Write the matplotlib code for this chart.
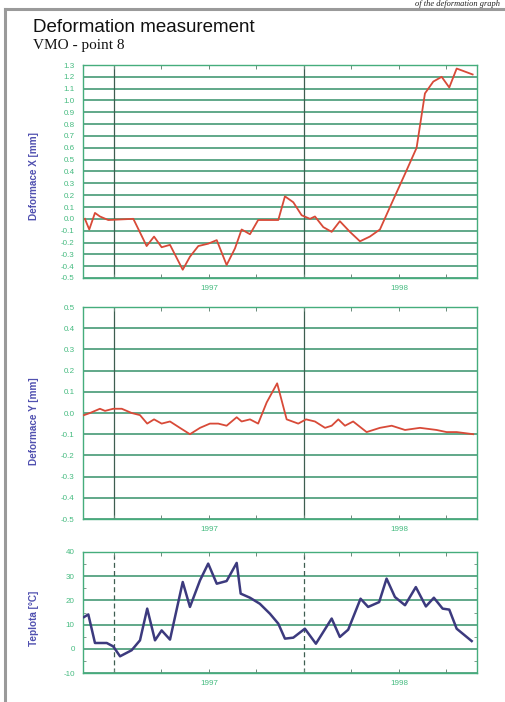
import matplotlib
matplotlib.use("Agg")
import matplotlib.pyplot as plt
from matplotlib.lines import Line2D
import numpy as np

# ---------------- data ----------------
x_dates = [1996.847, 1996.870, 1996.900, 1996.926, 1996.970, 1997.102, 1997.172, 1997.211,
           1997.251, 1997.295, 1997.362, 1997.400, 1997.444, 1997.496, 1997.541, 1997.593,
           1997.637, 1997.672, 1997.716, 1997.759, 1997.865, 1997.900, 1997.944, 1997.988,
           1998.032, 1998.058, 1998.102, 1998.146, 1998.189, 1998.242, 1998.295, 1998.347,
           1998.400, 1998.453, 1998.532, 1998.593, 1998.637, 1998.681, 1998.725, 1998.765,
           1998.804, 1998.838, 1998.888]
x_values = [0.0, -0.09, 0.05, 0.02, -0.01, 0.0, -0.23, -0.15, -0.24, -0.22, -0.43, -0.32,
            -0.23, -0.21, -0.18, -0.39, -0.25, -0.09, -0.13, -0.01, -0.01, 0.19, 0.14, 0.03,
            0.0, 0.02, -0.07, -0.11, -0.02, -0.11, -0.19, -0.15, -0.09, 0.10, 0.38, 0.60,
            1.06, 1.16, 1.20, 1.11, 1.27, 1.25, 1.22]

y_dates = [1996.842, 1996.874, 1996.926, 1996.953, 1996.996, 1997.041, 1997.093, 1997.137,
           1997.175, 1997.211, 1997.251, 1997.295, 1997.347, 1997.400, 1997.453, 1997.505,
           1997.549, 1997.593, 1997.646, 1997.672, 1997.716, 1997.759, 1997.804, 1997.859,
           1997.909, 1997.970, 1998.011, 1998.058, 1998.111, 1998.146, 1998.181, 1998.216,
           1998.259, 1998.330, 1998.400, 1998.462, 1998.532, 1998.611, 1998.698, 1998.751,
           1998.804, 1998.891]
y_values = [-0.01, 0.00, 0.02, 0.01, 0.02, 0.02, 0.00, -0.01, -0.05, -0.03, -0.05, -0.04,
            -0.07, -0.10, -0.07, -0.05, -0.05, -0.06, -0.02, -0.04, -0.03, -0.05, 0.05, 0.14,
            -0.03, -0.05, -0.03, -0.04, -0.07, -0.06, -0.03, -0.06, -0.04, -0.09, -0.07, -0.06,
            -0.08, -0.07, -0.08, -0.09, -0.09, -0.10]

t_dates = [1996.842, 1996.865, 1996.900, 1996.962, 1996.996, 1997.032, 1997.093, 1997.137,
           1997.175, 1997.216, 1997.251, 1997.295, 1997.362, 1997.400, 1997.453, 1997.496,
           1997.541, 1997.593, 1997.646, 1997.667, 1997.716, 1997.768, 1997.821, 1997.865,
           1997.900, 1997.944, 1998.005, 1998.063, 1998.146, 1998.189, 1998.233, 1998.298,
           1998.338, 1998.396, 1998.435, 1998.479, 1998.532, 1998.589, 1998.642, 1998.684,
           1998.730, 1998.765, 1998.804, 1998.883]
t_values = [13.1, 14.2, 2.4, 2.4, 1.0, -3.1, -0.6, 3.5, 16.6, 3.5, 7.6, 3.8, 27.6, 17.3,
            28.3, 35.2, 26.9, 28.0, 35.5, 22.8, 21.1, 18.6, 14.5, 10.4, 4.2, 4.6, 8.3, 2.1,
            12.5, 4.9, 7.9, 20.7, 17.3, 19.3, 29.0, 21.4, 18.0, 25.5, 17.5, 21.1, 16.6, 16.2,
            8.3, 3.2]

year_bounds = [1997, 1998]
quarter_ticks = [1997.0, 1997.25, 1997.5, 1997.75, 1998.0, 1998.25, 1998.5, 1998.75]
year_labels = {1997.5: "1997", 1998.5: "1998"}
x_range = (1996.837, 1998.911)

title = "Deformation measurement"
subtitle = "VMO - point 8"
header = "of the deformation graph"
ylabels = ["Deformace X [mm]", "Deformace Y [mm]", "Teplota [°C]"]

# ---------------- style ----------------
GRID = "#36916a"
SPINE = "#45ad7c"
TICKC = "#45bb80"
YEARLINE = "#3e5e50"
LABELC = "#5050b0"
RED = "#d84a38"
NAVY = "#3c3a7e"

fig = plt.figure(figsize=(5.05, 7.02), dpi=100)
W, H = 505, 702

def add_axes(top, bottom, left=83, right=477):
    return fig.add_axes([left / W, 1 - bottom / H, (right - left) / W, (bottom - top) / H])

ax1 = add_axes(65, 278)
ax2 = add_axes(307, 519)
ax3 = add_axes(552, 673)

def style(ax, yticks, fmt, ylabel, ylab_pos, dashed=False, minor_y=None):
    ax.set_xlim(*x_range)
    ax.set_ylim(yticks[0], yticks[-1])
    ax.set_yticks(yticks)
    ax.set_yticklabels([fmt(v) for v in yticks])
    for v in yticks:
        ax.axhline(v, color=GRID, lw=1.1, zorder=1)
    for yb in year_bounds:
        ax.axvline(yb, color=YEARLINE, lw=0.9, zorder=1,
                   linestyle=(0, (4, 2.5)) if dashed else "-")
    ax.set_xticks(quarter_ticks)
    ax.set_xticklabels([year_labels.get(q, "") for q in quarter_ticks])
    ax.tick_params(axis="x", which="major", direction="in", length=3, width=0.7,
                   color="#6a8a7a", top=True, labelsize=5.8, labelcolor=TICKC, pad=5)
    ax.tick_params(axis="y", which="major", length=0, labelsize=5.8, labelcolor=TICKC, pad=6)
    if minor_y is not None:
        ax.set_yticks(minor_y, minor=True)
        ax.tick_params(axis="y", which="minor", direction="in", length=2, width=0.6,
                       color="#6a8a7a", right=True)
    for s in ax.spines.values():
        s.set_color(SPINE)
        s.set_linewidth(1.0)
    ax.set_ylabel(ylabel, color=LABELC, fontsize=7.2, family="Liberation Sans",
                  fontweight="bold")
    ax.yaxis.set_label_coords(-0.112, ylab_pos)
    for lab in ax.get_xticklabels() + ax.get_yticklabels():
        lab.set_family("Liberation Sans")

style(ax1, [round(-0.5 + 0.1 * i, 1) for i in range(19)], lambda v: f"{v:.1f}",
      ylabels[0], 0.48)
style(ax2, [round(-0.5 + 0.1 * i, 1) for i in range(11)], lambda v: f"{v:.1f}",
      ylabels[1], 0.46)
style(ax3, [-10, 0, 10, 20, 30, 40], lambda v: f"{v:d}", ylabels[2], 0.45,
      dashed=True, minor_y=[-5, 5, 15, 25, 35])

ax1.plot(x_dates, x_values, color=RED, lw=1.3, zorder=3)
ax2.plot(y_dates, y_values, color=RED, lw=1.3, zorder=3)
ax3.plot(t_dates, t_values, color=NAVY, lw=1.8, zorder=3)

# page frame
fig.add_artist(Line2D([5 / W, 1.0], [1 - 9 / H, 1 - 9 / H], color="#9a9a9a", lw=2.2))
fig.add_artist(Line2D([5 / W, 5 / W], [0.0, 1 - 9 / H], color="#9a9a9a", lw=2.2))

# running header at top (small, fully inside the figure)
fig.text(500 / W, 1 - 6 / H, header, ha="right", va="baseline",
         family="Liberation Serif", style="italic", fontsize=6, color="#222222")

fig.text(33 / W, 1 - 32 / H, title, ha="left", va="baseline",
         family="Liberation Sans", fontsize=13.5, color="#111111")
fig.text(33 / W, 1 - 49 / H, subtitle, ha="left", va="baseline",
         family="Liberation Serif", fontsize=11, color="#111111")

fig.savefig("out.png", dpi=100)
